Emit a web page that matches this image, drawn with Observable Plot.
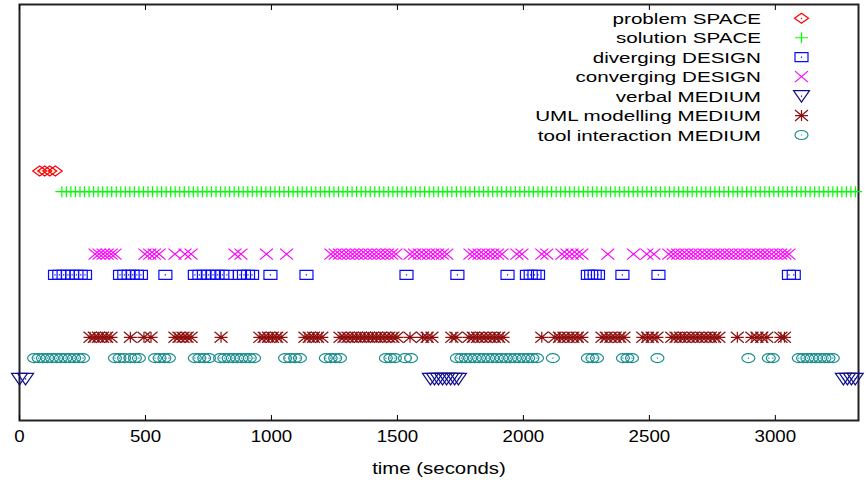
<!DOCTYPE html>
<html><head><meta charset="utf-8">
<script src="https://cdn.jsdelivr.net/npm/d3@7"></script>
<script src="https://cdn.jsdelivr.net/npm/@observablehq/plot@0.6"></script>
<style>
body{margin:0;background:#fff;}
#wrap{position:relative;width:866px;height:480px;font-family:"Liberation Sans",Arial,sans-serif;}
#legend{position:absolute;left:0;top:0;pointer-events:none;}
</style></head><body><div id="wrap"></div>
<script>
// ---- data (time in seconds) ----
const seriesNames = ["problem SPACE","solution SPACE","diverging DESIGN","converging DESIGN","verbal MEDIUM","UML modelling MEDIUM","tool interaction MEDIUM"];
const seriesLevels = [12, 11, 7, 8, 2, 4, 3];
const seriesColors = ["#ff0000","#00ff00","#0a0aff","#ff00ff","#10108c","#8e0f0f","#1b8f8f"];
const xTicks = [0, 500, 1000, 1500, 2000, 2500, 3000];

const problemSpace = [80, 100, 120, 142];
const solutionSpace = [168,186,204,222,240,258,276,294,312,330,348,366,384,402,420,438,456,474,492,510,528,546,564,582,600,618,636,654,672,690,708,726,744,762,780,798,816,834,852,870,888,906,924,942,960,978,996,1014,1032,1050,1068,1086,1104,1122,1140,1158,1176,1194,1212,1230,1248,1266,1284,1302,1320,1338,1356,1374,1392,1410,1428,1446,1464,1482,1500,1518,1536,1554,1572,1590,1608,1626,1644,1662,1680,1698,1716,1734,1752,1770,1788,1806,1824,1842,1860,1878,1896,1914,1932,1950,1968,1986,2004,2022,2040,2058,2076,2094,2112,2130,2148,2166,2184,2202,2220,2238,2256,2274,2292,2310,2328,2346,2364,2382,2400,2418,2436,2454,2472,2490,2508,2526,2544,2562,2580,2598,2616,2634,2652,2670,2688,2706,2724,2742,2760,2778,2796,2814,2832,2850,2868,2886,2904,2922,2940,2958,2976,2994,3012,3030,3048,3066,3084,3102,3120,3138,3156,3174,3192,3210,3228,3246,3264,3282,3300,3318];
const divergingDesign = [141,158,175,192,209,226,243,260, 399,416,433,449,466,482, 579, 696,714,732,750,768,786,805,823, 875,891,907,923, 996, 1139, 1536, 1738, 1937, 2014,2029,2044,2058, 2256,2269,2283,2296, 2393, 2536, 3054,3073];
const convergingDesign = [300,316,332,348,364,379, 498,517,535,554, 617, 657,681, 855,879, 980, 1060,
  1236,1253,1270,1288,1305,1322,1339,1356,1374,1391,1408,1425,1442,1460,1477,1494,
  1550,1568,1587,1605,1623,1641,1659,1678,1696, 1788,1806,1824,1842,1860,1878,1897,1915,
  1974,1994, 2073,2093, 2153,2173,2193,2213,2232, 2335, 2437, 2490,2518,
  2577,2595,2612,2630,2648,2666,2683,2701,2719,2737,2754,2772,2790,2808,2825,2843,2861,2879,2896,2914,2932,2950,2967,2985,3003,3021,3038,3054];
const verbalMedium = [0, 24, 1631,1647,1663,1679,1695,1711,1727,1742, 3270,3286,3302,3317];
const umlModelling = [280,297,313,330,346,363, 440, 494,522, 617,633,649,665,681, 800,
  954,971,988,1004,1021,1038, 1133,1150,1167,1183,1200,
  1272,1288,1304,1321,1337,1353,1369,1385,1401,1417,1433,1450,1466,1482,1498,
  1550,1600,1618,1637, 1716,1732, 1784,1801,1818,1835,1851,1868,1885,1902,1919,
  2073, 2125,2143,2161,2178,2196,2214,2232, 2312,2329,2347,2364,2382,2399,
  2474,2493,2511,2530, 2589,2606,2623,2640,2657,2674,2691,2708,2725,2742,2759,2776,
  2849, 2907,2927,2946,2966, 3022,3036];
const toolInteraction = [58,76,93,111,129,146,164,182,199,217,235,252, 379,397,415,440,458,474, 538,556,575,593,
  696,714,733,752, 796,813,830,847,864,881,898,914,931, 1054,1074,1094,1113, 1216,1235,1253,1272,
  1454,1472,1490,1530,1554,
  1736,1754,1771,1789,1807,1824,1842,1860,1877,1895,1913,1930,1948,1966,1983,2001,2019,2036,2054,
  2117, 2256,2274,2292, 2395,2413,2431, 2532, 2893, 2974,2990, 3093,3110,3127,3144,3161,3178,3195,3211,3228];

const seriesData = [problemSpace, solutionSpace, divergingDesign, convergingDesign, verbalMedium, umlModelling, toolInteraction];

// ---- gnuplot-like point symbols ----
function centerDot(c){ c.moveTo(-0.6,0); c.lineTo(0.6,0); }
const symbols = [
  {draw(c){ c.moveTo(-7,0); c.lineTo(0,-5); c.lineTo(7,0); c.lineTo(0,5); c.closePath(); centerDot(c); }},
  {draw(c){ c.moveTo(-6.5,0); c.lineTo(6.5,0); c.moveTo(0,-5.5); c.lineTo(0,5.5); }},
  {draw(c){ c.moveTo(-6.5,-4.5); c.lineTo(6.5,-4.5); c.lineTo(6.5,4.5); c.lineTo(-6.5,4.5); c.closePath(); centerDot(c); }},
  {draw(c){ c.moveTo(-6.5,-5.5); c.lineTo(6.5,5.5); c.moveTo(-6.5,5.5); c.lineTo(6.5,-5.5); }},
  {draw(c){ c.moveTo(-8,-5.5); c.lineTo(8,-5.5); c.lineTo(0,6); c.closePath(); centerDot(c); }},
  {draw(c){ c.moveTo(-6.5,-5.5); c.lineTo(6.5,5.5); c.moveTo(-6.5,5.5); c.lineTo(6.5,-5.5); c.moveTo(-6.5,0); c.lineTo(6.5,0); c.moveTo(0,-5.5); c.lineTo(0,5.5); }},
  {draw(c){ const rx=6.5, ry=4.5, k=0.5523;
    c.moveTo(rx,0); c.bezierCurveTo(rx,k*ry,k*rx,ry,0,ry); c.bezierCurveTo(-k*rx,ry,-rx,k*ry,-rx,0);
    c.bezierCurveTo(-rx,-k*ry,-k*rx,-ry,0,-ry); c.bezierCurveTo(k*rx,-ry,rx,-k*ry,rx,0); c.closePath(); centerDot(c); }}
];

const rows = [];
seriesData.forEach((arr, i) => arr.forEach(t => rows.push({series: seriesNames[i], t, level: seriesLevels[i]})));

const dotMarks = seriesNames.map((name, i) =>
  Plot.dot(rows.filter(d => d.series === name), {x: "t", y: "level", symbol: symbols[i], stroke: seriesColors[i], fill: "none", strokeWidth: 1.2, r: 5})
);

const chart = Plot.plot({
  width: 866, height: 480,
  marginLeft: 19, marginRight: 8, marginTop: 4, marginBottom: 60,
  style: {fontFamily: '"Liberation Sans", Arial, sans-serif', fontSize: "16px", color: "#000", background: "#fff", overflow: "visible"},
  x: {domain: [0, 3330]},
  y: {domain: [0, 20], axis: null},
  marks: [
    Plot.frame({stroke: "#222", strokeWidth: 2}),
    ...dotMarks,
    Plot.axisX({anchor: "bottom", ticks: xTicks, tickSize: -5, tickPadding: 14, tickFormat: d => String(d), label: "time (seconds)", labelAnchor: "center", labelArrow: "none", labelOffset: 53, fontSize: 17}),
    Plot.axisX({anchor: "top", ticks: xTicks, tickSize: -5, tickFormat: () => "", label: null})
  ]
});

// horizontal stretch of text like the reference image
chart.querySelectorAll('g[aria-label="x-axis tick label"] text').forEach(t => {
  const tr = t.getAttribute("transform") || "";
  t.setAttribute("transform", tr + " scale(1.1,1)");
});
chart.querySelectorAll('g[aria-label="x-axis label"] text').forEach(t => {
  const tr = t.getAttribute("transform") || "";
  t.setAttribute("transform", tr + " scale(1.2,1)");
  t.style.fontSize = "17px";
});

const wrap = document.getElementById("wrap");
wrap.appendChild(chart);

// ---- legend (top right, inside frame) ----
const leg = d3.select(wrap).append("svg").attr("id", "legend").attr("width", 866).attr("height", 160);
seriesNames.forEach((name, i) => {
  const y = 18.3 + i * 19.45;
  leg.append("text").attr("x", 0).attr("y", 0)
    .attr("transform", `translate(761,${y}) scale(1.33,1)`)
    .attr("text-anchor", "end").attr("dominant-baseline", "central")
    .style("font-family", '"Liberation Sans", Arial, sans-serif').style("font-size", "15.5px").attr("fill", "#000")
    .text(name);
  const p = d3.path(); symbols[i].draw(p, 30);
  leg.append("path").attr("d", p.toString()).attr("transform", `translate(801.5,${y})`)
    .attr("fill", "none").attr("stroke", seriesColors[i]).attr("stroke-width", 1.2);
});
</script></body></html>
